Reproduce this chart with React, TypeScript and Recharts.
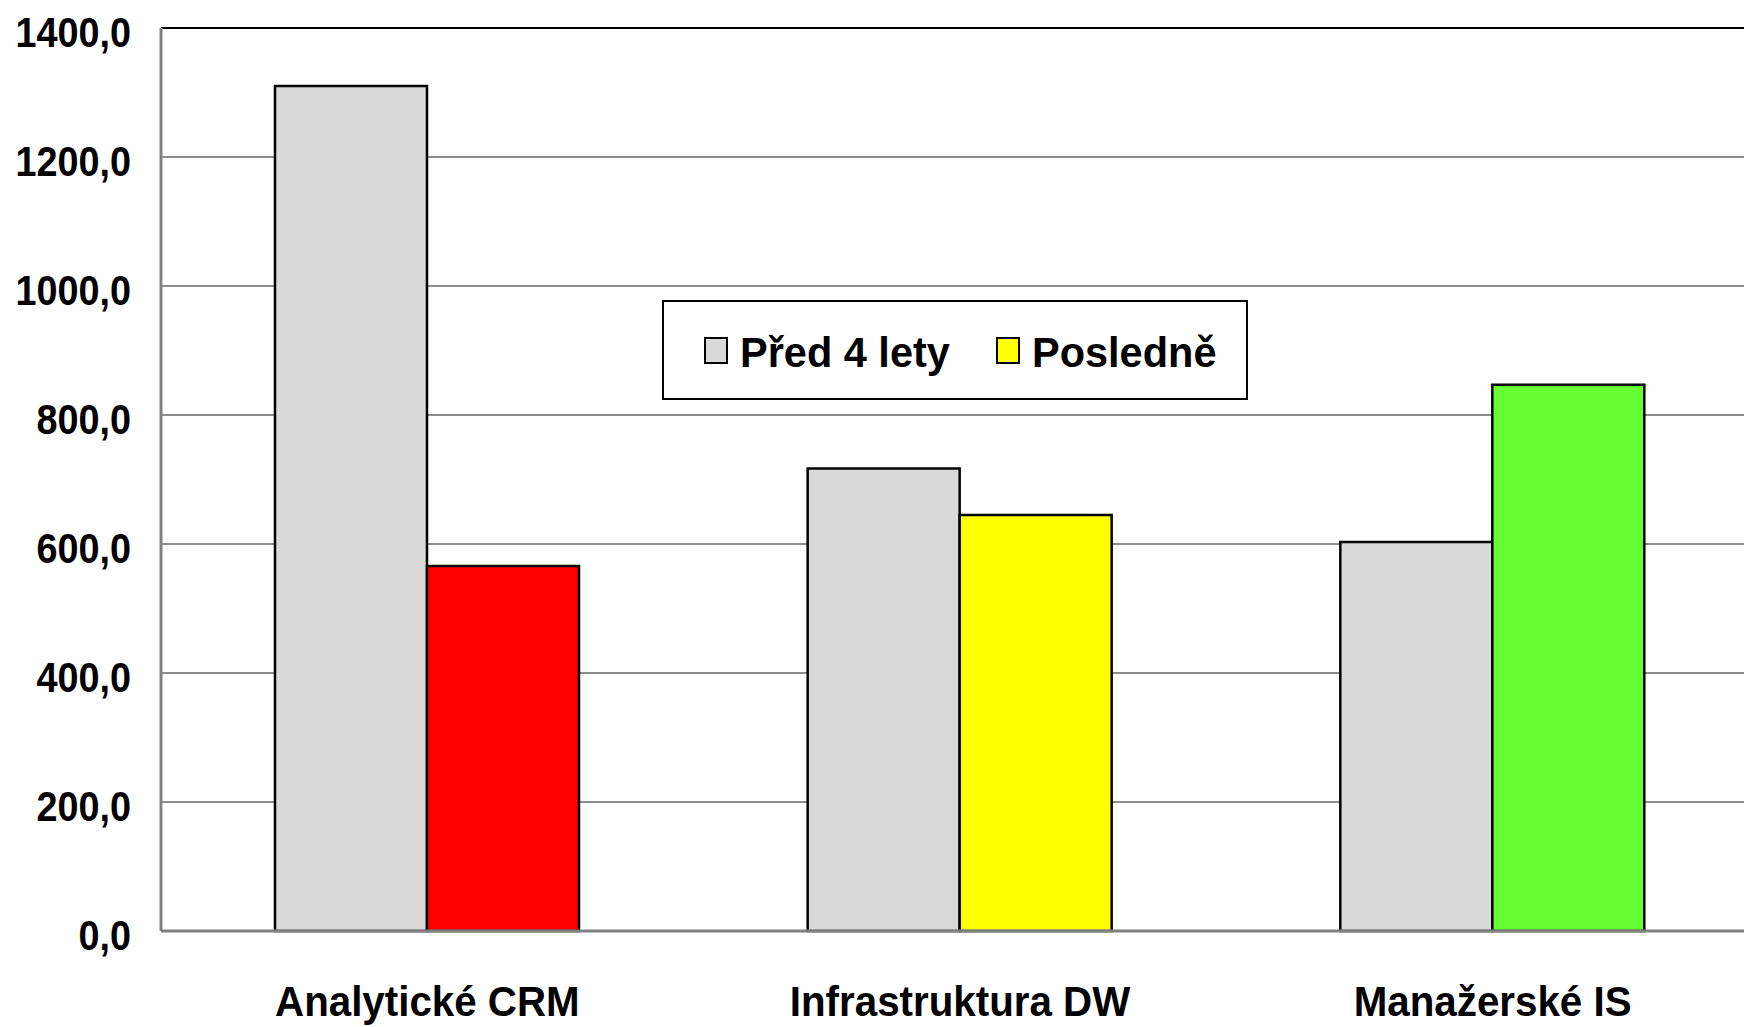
import React from 'react';
import { BarChart, Bar, XAxis, YAxis, CartesianGrid, Legend, Cell, ReferenceLine } from 'recharts';

const categories = ['Analytické CRM', 'Infrastruktura DW', 'Manažerské IS'];
const pred4Lety = [1310, 717, 603];
const posledne = [566, 645, 847];
const recentColors = ['#ff0000', '#ffff00', '#66ff33'];
const seriesNames = ['Před 4 lety', 'Posledně'];
const seriesFills = ['#d9d9d9', '#ffff00'];
const yTicks = [0, 200, 400, 600, 800, 1000, 1200, 1400];

const data = categories.map((c, i) => ({ name: c, a: pred4Lety[i], b: posledne[i] }));

const FONT = '"Liberation Sans", Arial, Helvetica, sans-serif';
const fmt = (v: number) => v.toFixed(1).replace('.', ',');

const YTick = (props: any) => {
  const { x, y, payload } = props;
  return (
    <g transform={`translate(${x},${y + 4}) scale(0.9,1)`}>
      <text x={0} y={0} dy="0.36em" textAnchor="end" fontFamily={FONT} fontWeight="bold" fontSize={42} fill="#000">
        {fmt(payload.value)}
      </text>
    </g>
  );
};

const XTick = (props: any) => {
  const { x, y, payload } = props;
  return (
    <g transform={`translate(${x},${y + 85}) scale(0.96,1)`}>
      <text x={0} y={0} textAnchor="middle" fontFamily={FONT} fontWeight="bold" fontSize={42} fill="#000">
        {payload.value}
      </text>
    </g>
  );
};

const LegendBox = (props: any) => {
  const raw = props.payload || [];
  const payload = [...raw].sort(
    (p: any, q: any) => seriesNames.indexOf(p.value) - seriesNames.indexOf(q.value)
  );
  const itemX = [43, 335];
  return (
    <svg width={586} height={100} style={{ display: 'block', position: 'absolute', left: 0, top: 0 }}>
      <rect x={1} y={1} width={584} height={98} fill="#fff" stroke="#000" strokeWidth={2} />
      {payload.map((p: any, i: number) => (
        <g key={i}>
          <rect x={itemX[i]} y={38} width={22} height={25} fill={p.color} stroke="#000" strokeWidth={2} />
          <g transform={`translate(${itemX[i] + 35},67) scale(0.965,1)`}>
            <text x={0} y={0} fontFamily={FONT} fontWeight="bold" fontSize={43} fill="#000">
              {p.value}
            </text>
          </g>
        </g>
      ))}
    </svg>
  );
};

export default function App() {
  return (
    <div style={{ position: 'fixed', left: 0, top: 0, width: 1744, height: 1027, overflow: 'hidden', background: '#fff' }}>
      <BarChart
        width={1760}
        height={1027}
        data={data}
        margin={{ top: 28, right: 1, left: 0, bottom: 0 }}
        barCategoryGap="21.4%"
        barGap={0}
      >
        <CartesianGrid horizontal vertical={false} stroke="#8c8c8c" strokeWidth={2} />
        <XAxis
          dataKey="name"
          height={96}
          tick={<XTick />}
          tickLine={false}
          tickSize={0}
          tickMargin={0}
          axisLine={{ stroke: '#808080', strokeWidth: 3 }}
          interval={0}
        />
        <YAxis
          width={161}
          domain={[0, 1400]}
          ticks={yTicks}
          tick={<YTick />}
          tickLine={false}
          tickSize={0}
          tickMargin={30}
          axisLine={{ stroke: '#808080', strokeWidth: 3 }}
          interval={0}
        />
        <ReferenceLine y={1400} stroke="#000" strokeWidth={2} />
        <Legend
          content={<LegendBox />}
          wrapperStyle={{ position: 'absolute', left: 662, top: 300, width: 0, height: 0, overflow: 'visible' }}
        />
        <Bar dataKey="a" name={seriesNames[0]} fill={seriesFills[0]} stroke="#000" strokeWidth={2.5} isAnimationActive={false} />
        <Bar dataKey="b" name={seriesNames[1]} fill={seriesFills[1]} stroke="#000" strokeWidth={2.5} isAnimationActive={false}>
          {data.map((_, i) => (
            <Cell key={i} fill={recentColors[i]} />
          ))}
        </Bar>
      </BarChart>
    </div>
  );
}
